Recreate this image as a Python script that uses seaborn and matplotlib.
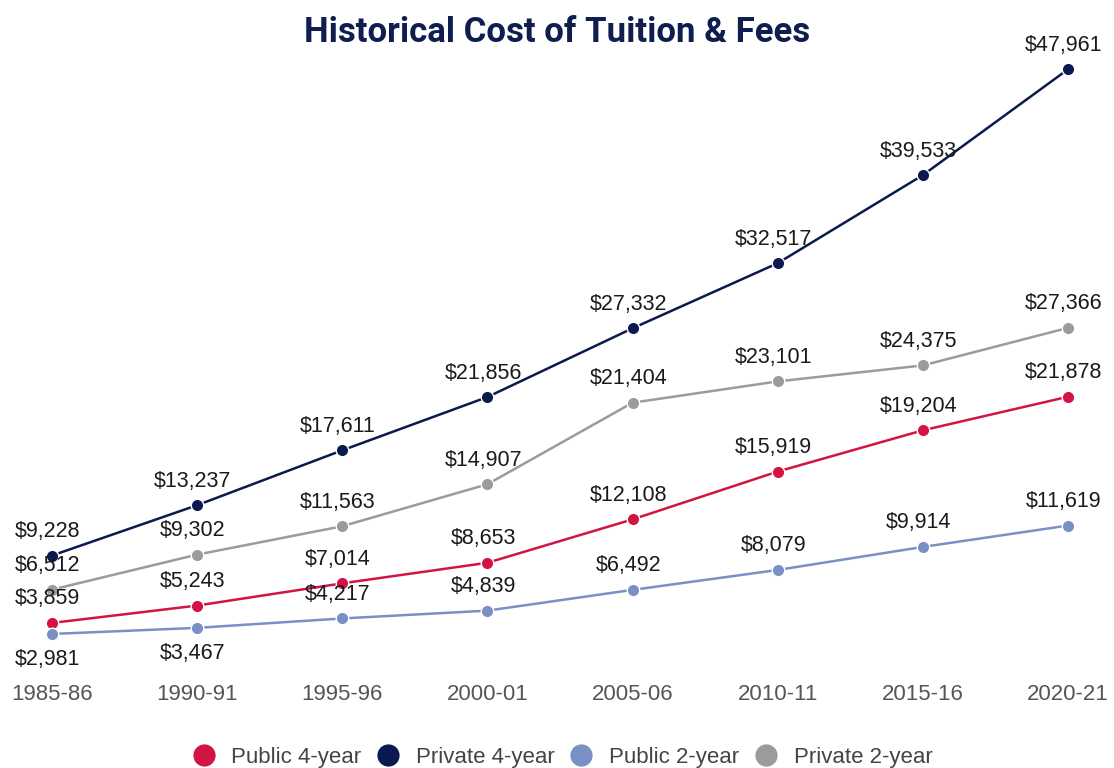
import pandas as pd
import matplotlib.pyplot as plt
import seaborn as sns

# chart data
years = ["1985-86", "1990-91", "1995-96", "2000-01", "2005-06", "2010-11", "2015-16", "2020-21"]
public_4yr = [3859, 5243, 7014, 8653, 12108, 15919, 19204, 21878]
private_4yr = [9228, 13237, 17611, 21856, 27332, 32517, 39533, 47961]
public_2yr = [2981, 3467, 4217, 4839, 6492, 8079, 9914, 11619]
private_2yr = [6512, 9302, 11563, 14907, 21404, 23101, 24375, 27366]
series_names = ["Public 4-year", "Private 4-year", "Public 2-year", "Private 2-year"]
colors = ["#D21444", "#0B1A4E", "#7A8FC4", "#9B9B9B"]

# public 2-year labels sit below the point for the first two years
below = {("Public 2-year", 0), ("Public 2-year", 1)}

rows = []
for name, vals in zip(series_names, [public_4yr, private_4yr, public_2yr, private_2yr]):
    for i, v in enumerate(vals):
        rows.append({"x": i, "year": years[i], "series": name, "cost": v})
df = pd.DataFrame(rows)

sns.set_style("white")
plt.rcParams["font.family"] = ["Liberation Sans", "DejaVu Sans"]

fig = plt.figure(figsize=(11.14, 7.68), dpi=100)
ax = fig.add_axes([0.0, 0.1258, 1.0, 0.796])

sns.lineplot(data=df, x="x", y="cost", hue="series", hue_order=series_names,
             palette=colors, marker="o", markersize=9, markeredgecolor="white",
             markeredgewidth=1, linewidth=1.8, ax=ax, legend=False)

for name in series_names:
    sub = df[df["series"] == name]
    for _, r in sub.iterrows():
        dy = -26 if (name, r["x"]) in below else 24
        ax.annotate(f"${r['cost']:,}", (r["x"], r["cost"]), xytext=(-3, dy * 0.72),
                    textcoords="offset points", ha="center", va="center",
                    fontsize=15.5, color="#1a1a1a")

ax.set_xlim(-0.358, 7.317)
ax.set_ylim(0, 48700)
ax.set_xticks(range(len(years)))
ax.set_xticklabels(years, fontsize=16, color="#555555")
ax.tick_params(axis="x", length=0, pad=9)
ax.set_yticks([])
ax.set_xlabel("")
ax.set_ylabel("")
for s in ax.spines.values():
    s.set_visible(False)

fig.text(0.5, 0.958, "Historical Cost of Tuition & Fees", ha="center", va="center",
         fontsize=25, fontweight="bold", color="#0F1D4F", family=["Roboto", "DejaVu Sans"])

handles = [plt.Line2D([], [], marker="o", linestyle="", markersize=15,
                      markerfacecolor=c, markeredgecolor=c) for c in colors]
fig.legend(handles, series_names, loc="center", bbox_to_anchor=(0.5, 0.014),
           ncol=4, frameon=False, fontsize=16, handletextpad=0.25, columnspacing=0.2,
           labelcolor="#444444")

fig.savefig("out.png", dpi=100)
